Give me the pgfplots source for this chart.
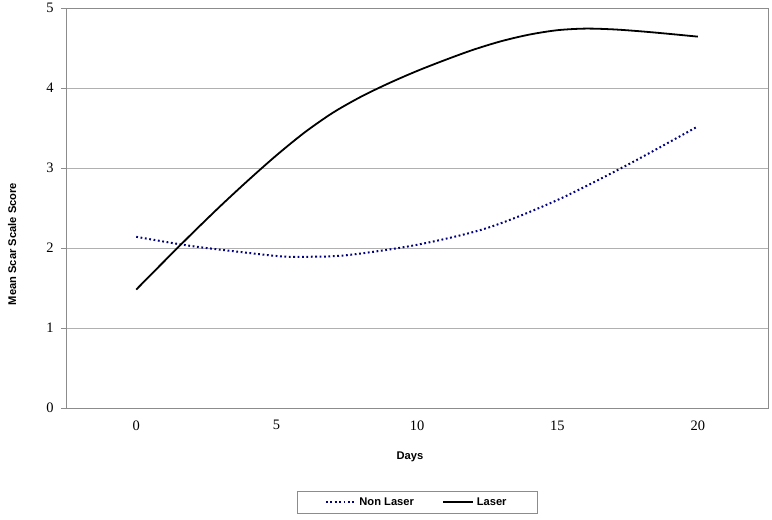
\documentclass[border=0pt]{standalone}
\usepackage{fontspec}
\setmainfont{Liberation Serif}
\setsansfont{Liberation Sans}
\usepackage{pgfplots}
\pgfplotsset{compat=1.18}
\definecolor{gridc}{HTML}{B0B0B0}
\definecolor{axc}{HTML}{8C8C8C}
\definecolor{navy}{HTML}{000080}
\begin{document}
\begin{tikzpicture}
\begin{axis}[
  scale only axis, width=702bp, height=400bp,
  xmin=-2.5, xmax=22.5, ymin=0, ymax=5,
  axis line style={axc, line width=0.8bp},
  xtick={0,5,10,15,20},
  major x tick style={draw=none},
  extra x ticks={-2.5,2.5,7.5,12.5,17.5,22.5},
  extra x tick labels={},
  extra x tick style={tick style={axc, line width=0.8bp}, major tick length=5bp, tick align=outside, grid=none},
  ytick={0,1,2,3,4,5},
  ymajorgrids, grid style={gridc, line width=0.9bp},
  ytick style={axc, line width=0.8bp},
  tick align=outside, major tick length=5bp,
  xtick pos=bottom, ytick pos=left,
  /pgf/number format/assume math mode=true,
  ticklabel style={font=\fontsize{14.5}{16}\selectfont},
  xticklabel style={yshift=-4bp},
  yticklabel style={xshift=-4bp},
  xlabel={Days},
  ylabel={Mean Scar Scale Score},
  label style={font=\sffamily\bfseries\fontsize{11.2}{13}\selectfont},
  xlabel style={at={(axis description cs:0.49,-0.1218)}, anchor=center},
  ylabel style={at={(axis description cs:-0.0769,0.41)}, anchor=center},
  legend columns=2,
  legend image code/.code={\draw[#1] (0bp,0bp) -- (30bp,0bp);},
  legend style={at={(0.5,-0.236)}, anchor=center, draw=axc, line width=0.8bp,
    font=\sffamily\bfseries\fontsize{11.2}{13}\selectfont,
    inner xsep=28bp, inner ysep=3bp,
    nodes={inner xsep=2.5bp, inner ysep=3bp},
    /tikz/every even column/.append style={column sep=26bp}},
  clip=false,
]
\addplot[navy, line width=2bp, dash pattern=on 1.8bp off 2.6bp, smooth, tension=0.5] table {
x y
0 2.14
1.5 2.05
2.5 2.00
5 1.90
6 1.89
7.5 1.91
10 2.04
12.5 2.25
15 2.60
17.5 3.04
20 3.52
};
\addlegendentry{Non Laser}
\addplot[black, line width=1.8bp, smooth, tension=0.5] table {
x y
0 1.48
1 1.835
2 2.185
3 2.525
4 2.85
5 3.16
6 3.445
7 3.69
8 3.89
9 4.06
10 4.2125
11 4.35
12 4.4775
13 4.585
14 4.6675
15 4.7225
16 4.7425
17 4.7325
18 4.7075
19 4.676
20 4.642
};
\addlegendentry{Laser}
\coordinate (bl) at (rel axis cs:0,0);
\end{axis}
\pgfresetboundingbox
\path[use as bounding box] (bl) ++(-66bp,-112bp) rectangle ++(772bp,520bp);
\end{tikzpicture}
\end{document}
